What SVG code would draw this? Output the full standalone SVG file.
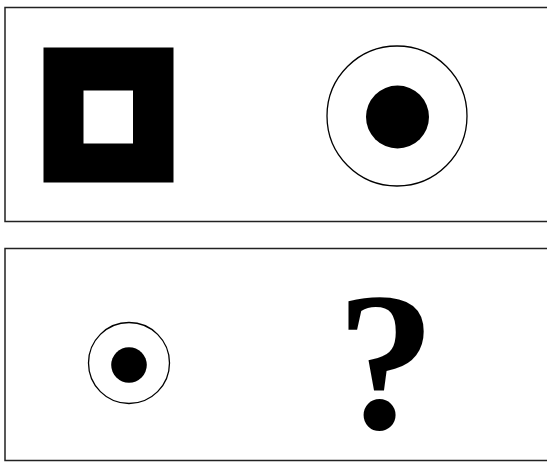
<svg xmlns="http://www.w3.org/2000/svg" width="547" height="463" viewBox="0 0 547 463">
<style>
.frame{fill:#fff;stroke:#222;stroke-width:1.5}
.ring{fill:none;stroke:#000;stroke-width:1.3}
.solid{fill:#000}
.q{font-family:"Liberation Serif","Times New Roman",serif;font-weight:bold;font-size:198px;fill:#000}
</style>
<rect width="547" height="463" fill="#fff"/>
<g id="panel-top">
<rect class="frame" x="5" y="7.5" width="560" height="214"/>
</g>
<g id="square">
<rect class="solid" x="43.5" y="47.5" width="130" height="135"/>
<rect fill="#fff" x="83.5" y="90.5" width="49.5" height="53"/>
</g>
<g id="target-large">
<circle class="ring" cx="397" cy="116" r="70"/>
<circle class="solid" cx="397.5" cy="117" r="31.5"/>
</g>
<g id="panel-bottom">
<rect class="frame" x="5" y="248.5" width="560" height="212"/>
</g>
<g id="target-small">
<circle class="ring" cx="129" cy="363" r="40.5"/>
<circle class="solid" cx="129" cy="365" r="17.8"/>
</g>
<g id="question">
<text class="q" x="386" y="428" text-anchor="middle">?</text>
</g>
</svg>
